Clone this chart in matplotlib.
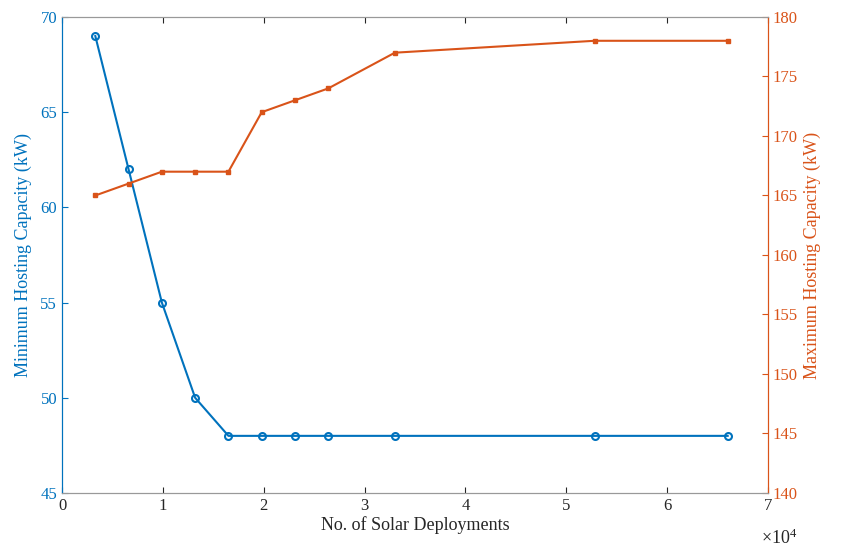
import matplotlib
matplotlib.use("Agg")
import matplotlib.pyplot as plt

x_deploy = [3300, 6600, 9900, 13200, 16500, 19800, 23100, 26400, 33000, 52800, 66000]
min_hc = [69, 62, 55, 50, 48, 48, 48, 48, 48, 48, 48]
max_hc = [165, 166, 167, 167, 167, 172, 173, 174, 177, 178, 178]

blue = "#0072BD"
orange = "#D95319"
grey = "#262626"

plt.rcParams['font.family'] = ['Liberation Serif', 'DejaVu Serif']
plt.rcParams['font.size'] = 12
plt.rcParams['mathtext.fontset'] = 'custom'
plt.rcParams['mathtext.rm'] = 'Liberation Serif'
plt.rcParams['mathtext.it'] = 'Liberation Serif:italic'

fig = plt.figure(figsize=(8.45, 5.48), dpi=100)
ax = fig.add_axes([0.0734, 0.1004, 0.8355, 0.8686])
ax2 = ax.twinx()

ax.plot(x_deploy, min_hc, color=blue, lw=1.5, marker='o', ms=5, mfc='none', mew=1.5)
ax2.plot(x_deploy, max_hc, color=orange, lw=1.5, marker='s', ms=3, mfc=orange, mew=1)

ax.set_xlim(0, 70000)
ax.set_ylim(45, 70)
ax2.set_ylim(140, 180)
ax.set_xticks(range(0, 70001, 10000))
ax.set_xticklabels([str(i) for i in range(8)])
ax.set_yticks(range(45, 71, 5))
ax2.set_yticks(range(140, 181, 5))

ax.set_xlabel("No. of Solar Deployments", color=grey, fontsize=13, labelpad=2)
ax.set_ylabel("Minimum Hosting Capacity (kW)", color=blue, fontsize=13, labelpad=6)
ax2.set_ylabel("Maximum Hosting Capacity (kW)", color=orange, fontsize=13)

ax.tick_params(axis='x', direction='in', colors=grey, top=True, length=4, labelsize=12)
ax.tick_params(axis='y', direction='in', colors=blue, length=4, labelsize=12)
ax2.tick_params(axis='y', direction='in', colors=orange, length=4, labelsize=12)

for a in (ax, ax2):
    a.spines['top'].set_color('#999999')
    a.spines['bottom'].set_color('#999999')
    a.spines['left'].set_color(blue)
    a.spines['right'].set_color(orange)
    for s in a.spines.values():
        s.set_linewidth(0.8)

fig.text(0.901, 0.008, r"$\times\mathrm{10}^{\mathrm{4}}$", color=grey, fontsize=13, ha='left')

fig.savefig("out.png", dpi=100)
